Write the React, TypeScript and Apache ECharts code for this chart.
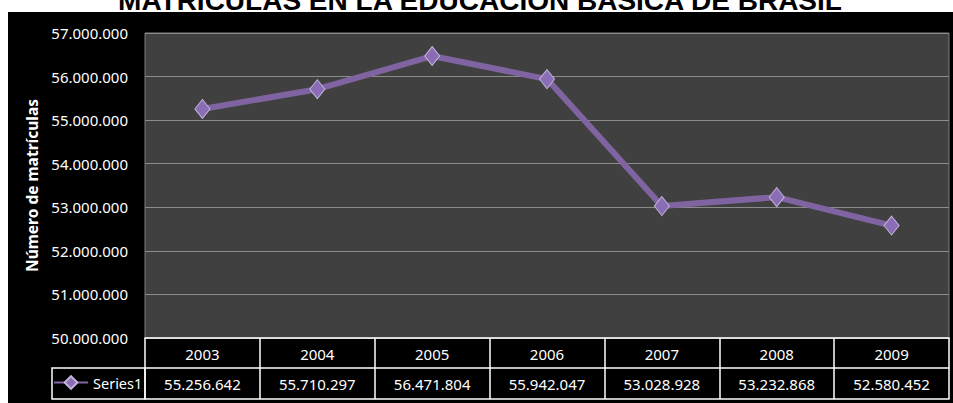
import React, { useEffect, useRef } from "react";
import * as echarts from "echarts";

const chartTitle = "MATRÍCULAS EN LA EDUCACIÓN BÁSICA DE BRASIL";
const years = ["2003", "2004", "2005", "2006", "2007", "2008", "2009"];
const enrollments = [55256642, 55710297, 56471804, 55942047, 53028928, 53232868, 52580452];
const seriesName = "Series1";
const yAxisName = "Número de matrículas";
const yMin = 50000000;
const yMax = 57000000;
const yStep = 1000000;

const fmt = (v: number) => String(Math.round(v)).replace(/\B(?=(\d{3})+(?!\d))/g, ".");

const FONT = '"Noto Sans", sans-serif';

export default function App() {
  const ref = useRef<HTMLDivElement>(null);
  useEffect(() => {
    if (!ref.current) return;
    const chart = echarts.init(ref.current, undefined, { renderer: "svg" });
    const white = "#ffffff";
    const tableLine = { show: true, lineStyle: { color: white, width: 1.5 } };
    chart.setOption({
      animation: false,
      backgroundColor: "#000000",
      grid: {
        left: 145,
        right: 4,
        top: 33,
        bottom: 65,
        show: true,
        backgroundColor: "#404040",
        borderColor: "#7f7f7f",
        borderWidth: 1,
      },
      legend: {
        show: true,
        data: [seriesName],
        left: 53,
        top: 375,
        padding: 0,
        itemWidth: 34,
        itemHeight: 16,
        itemGap: 0,
        textStyle: { color: white, fontSize: 14.5, fontFamily: FONT },
      },
      xAxis: [
        {
          type: "category",
          data: years,
          position: "bottom",
          boundaryGap: true,
          axisLine: tableLine,
          axisTick: { show: true, interval: 0, length: 61, lineStyle: { color: white, width: 1.5 } },
          axisLabel: { interval: 0, color: white, fontSize: 15, fontFamily: FONT, margin: 8 },
          splitLine: { show: false },
        },
        {
          type: "category",
          data: enrollments.map(fmt),
          position: "bottom",
          offset: 30,
          boundaryGap: true,
          axisLine: tableLine,
          axisTick: { show: false },
          axisLabel: { interval: 0, color: white, fontSize: 15, fontFamily: FONT, margin: 8 },
          splitLine: { show: false },
        },
        {
          type: "category",
          data: years,
          position: "bottom",
          offset: 61,
          boundaryGap: true,
          axisLine: tableLine,
          axisTick: { show: false },
          axisLabel: { show: false },
          splitLine: { show: false },
        },
      ],
      yAxis: {
        type: "value",
        min: yMin,
        max: yMax,
        interval: yStep,
        axisLine: { show: false },
        axisTick: { show: false },
        axisLabel: { formatter: (v: number) => fmt(v), color: white, fontSize: 15, fontFamily: FONT, margin: 17 },
        splitLine: { show: true, lineStyle: { color: "#8c8c8c", width: 1 } },
        name: yAxisName,
        nameLocation: "middle",
        nameRotate: 90,
        nameGap: 104,
        nameTextStyle: { color: white, fontWeight: "bold", fontSize: 15.5, fontFamily: FONT },
      },
      series: [
        {
          type: "line",
          name: seriesName,
          data: enrollments,
          xAxisIndex: 0,
          yAxisIndex: 0,
          lineStyle: { color: "#8064A2", width: 6 },
          symbol: "diamond",
          symbolSize: [15, 19],
          itemStyle: { color: "#8A6DB4", borderColor: "#C3B4DA", borderWidth: 1 },
          z: 5,
        },
      ],
      graphic: [
        { type: "rect", shape: { x: 0, y: 0, width: 953, height: 12 }, style: { fill: white }, z: 1 },
        { type: "rect", shape: { x: 0, y: 0, width: 8, height: 403 }, style: { fill: white }, z: 1 },
        {
          type: "rect",
          shape: { x: 52, y: 368, width: 93, height: 31 },
          style: { fill: "none", stroke: white, lineWidth: 1.5 },
          z: 2,
        },
        {
          type: "text",
          x: 480,
          y: 0,
          z: 10,
          style: {
            text: chartTitle,
            fill: "#000000",
            font: 'bold 28px "Liberation Sans", Arial, sans-serif',
            textAlign: "center",
            textVerticalAlign: "middle",
          },
        },
      ],
    });
    return () => chart.dispose();
  }, []);
  return (
    <div
      ref={ref}
      style={{ position: "absolute", left: 0, top: 0, width: 953, height: 403 }}
    />
  );
}
